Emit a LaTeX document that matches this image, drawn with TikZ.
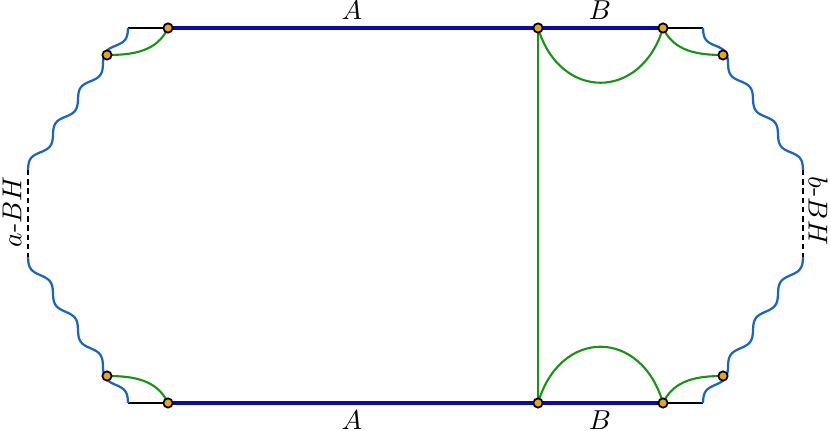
\documentclass[tikz,border=0pt]{standalone}
\usetikzlibrary{calc}
\definecolor{thickblue}{RGB}{10,10,170}
\definecolor{waveblue}{RGB}{25,100,200}
\definecolor{grn}{RGB}{20,150,20}
\definecolor{dotor}{RGB}{235,165,20}
\pgfdeclarelayer{bg}
\pgfsetlayers{bg,main}
\newcommand\mywave[3]{%
  \draw[wavel] let \p1=(#1), \p2=(#2), \n1={veclen(\x2-\x1,\y2-\y1)} in
    plot[variable=\t,domain=0:1,samples=160]
    ({\x1+(\x2-\x1)*\t-(#3)*sin(1440*\t)*(\y2-\y1)/\n1},
     {\y1+(\y2-\y1)*\t+(#3)*sin(1440*\t)*(\x2-\x1)/\n1});}
\begin{document}
\begin{tikzpicture}[x=0.4pt,y=-0.4pt,
  dotn/.style={circle,draw=black,fill=dotor,line width=0.7pt,inner sep=0pt,minimum size=3.7pt},
  bluel/.style={thickblue,line width=1.6pt},
  blk/.style={black,line width=0.6pt},
  grnl/.style={grn,line width=0.85pt},
  wavel/.style={waveblue,line width=0.9pt},
  dsh/.style={black,line width=1.15pt,dash pattern=on 2.2pt off 1.5pt},
  lbl/.style={inner sep=0pt,font=\fontsize{11.3}{13}\selectfont}]
\useasboundingbox (0,0) rectangle (831,431);
% corners
\coordinate (TL) at (128,28);
\coordinate (TR) at (703,28);
\coordinate (BL) at (128,403);
\coordinate (BR) at (703,403);
\coordinate (LU) at (28,170);
\coordinate (LL) at (28,257);
\coordinate (RU) at (803,170);
\coordinate (RL) at (803,257);
% dots
\node[dotn] (p1) at (168,28) {};
\node[dotn] (p2) at (538,28) {};
\node[dotn] (p3) at (663,28) {};
\node[dotn] (q1) at (168,403) {};
\node[dotn] (q2) at (538,403) {};
\node[dotn] (q3) at (663,403) {};
\node[dotn] (l1) at (107,55) {};
\node[dotn] (l2) at (107,376) {};
\node[dotn] (r1) at (723,55) {};
\node[dotn] (r2) at (723,376) {};
% labels
\node[lbl,anchor=base] (tA) at (352,20) {$A$};
\node[lbl,anchor=base] (tB) at (600,20) {$B$};
\node[lbl,anchor=base] (bA) at (352,429) {$A$};
\node[lbl,anchor=base] (bB) at (600,429) {$B$};
\node[lbl,rotate=90] (aBH) at (12,212) {$a$-$BH$};
\node[lbl,rotate=-90] (bBH) at (818,211) {$b$-$BH$};
\begin{pgfonlayer}{bg}
  \draw[blk] (TL) -- (p1.center);
  \draw[blk] (p3.center) -- (TR);
  \draw[blk] (BL) -- (q1.center);
  \draw[blk] (q3.center) -- (BR);
  \draw[bluel] (p1.center) -- (p2.center) -- (p3.center);
  \draw[bluel] (q1.center) -- (q2.center) -- (q3.center);
  \mywave{TL}{LU}{1.75pt}
  \mywave{LL}{BL}{-1.75pt}
  \mywave{TR}{RU}{-1.75pt}
  \mywave{RL}{BR}{1.75pt}
  \draw[dsh] (LU) -- (LL);
  \draw[dsh] (RU) -- (RL);
  \draw[grnl] (p2.center) -- (q2.center);
  \draw[grnl] (p2.center) .. controls (560,101) and (641,101) .. (p3.center);
  \draw[grnl] (q2.center) .. controls (560,328) and (641,328) .. (q3.center);
  \draw[grnl] (l1.center) to[out=0,in=-115] (p1.center);
  \draw[grnl] (p3.center) to[out=-65,in=180] (r1.center);
  \draw[grnl] (l2.center) to[out=0,in=115] (q1.center);
  \draw[grnl] (q3.center) to[out=65,in=180] (r2.center);
\end{pgfonlayer}
\end{tikzpicture}
\end{document}
